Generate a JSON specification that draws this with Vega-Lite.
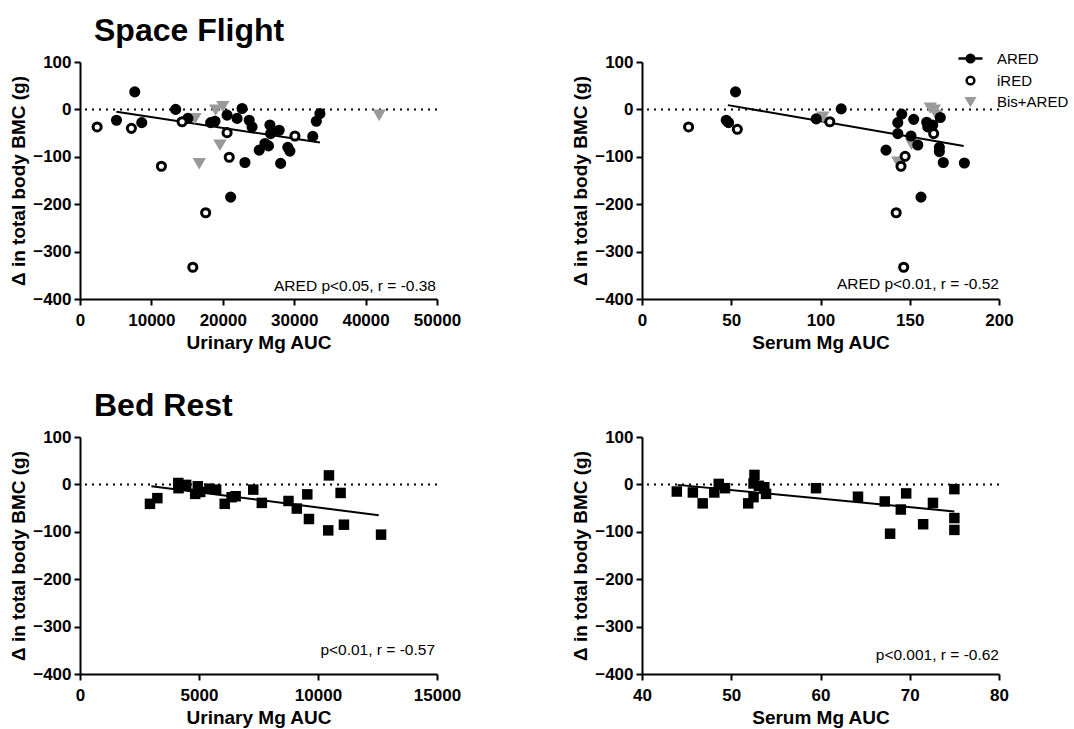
{
  "$schema": "https://vega.github.io/schema/vega-lite/v6.json",
  "background": "white",
  "padding": {"left": 9, "top": 15, "right": 2, "bottom": 2},
  "columns": 2,
  "bounds": "flush",
  "spacing": {"row": 138, "column": 205},
  "resolve": {"legend": {"shape": "independent", "fill": "independent", "stroke": "independent"}},
  "datasets": {
    "sfs": [
      {"x": 101.3, "y": -15, "group": "Bis+ARED"},
      {"x": 161.5, "y": 4, "group": "Bis+ARED"},
      {"x": 163.8, "y": 0, "group": "Bis+ARED"},
      {"x": 143.3, "y": -110, "group": "Bis+ARED"},
      {"x": 151, "y": -72, "group": "Bis+ARED"},
      {"x": 165, "y": -11, "group": "Bis+ARED"},
      {"x": 52.4, "y": 37, "group": "ARED"},
      {"x": 47.2, "y": -23, "group": "ARED"},
      {"x": 48.5, "y": -28, "group": "ARED"},
      {"x": 97.6, "y": -20, "group": "ARED"},
      {"x": 111.6, "y": 1, "group": "ARED"},
      {"x": 136.7, "y": -86, "group": "ARED"},
      {"x": 143.3, "y": -51, "group": "ARED"},
      {"x": 143.3, "y": -28, "group": "ARED"},
      {"x": 145.5, "y": -10, "group": "ARED"},
      {"x": 152.2, "y": -21, "group": "ARED"},
      {"x": 150.7, "y": -56, "group": "ARED"},
      {"x": 154.5, "y": -75, "group": "ARED"},
      {"x": 159.5, "y": -27, "group": "ARED"},
      {"x": 160.1, "y": -37, "group": "ARED"},
      {"x": 162.9, "y": -33, "group": "ARED"},
      {"x": 167.1, "y": -17, "group": "ARED"},
      {"x": 166.6, "y": -80, "group": "ARED"},
      {"x": 166.6, "y": -89, "group": "ARED"},
      {"x": 168.8, "y": -112, "group": "ARED"},
      {"x": 180.6, "y": -113, "group": "ARED"},
      {"x": 156.3, "y": -185, "group": "ARED"},
      {"x": 26.1, "y": -37, "group": "iRED"},
      {"x": 53.4, "y": -42, "group": "iRED"},
      {"x": 105.2, "y": -26, "group": "iRED"},
      {"x": 163.4, "y": -51, "group": "iRED"},
      {"x": 147.4, "y": -99, "group": "iRED"},
      {"x": 145.1, "y": -120, "group": "iRED"},
      {"x": 142.4, "y": -218, "group": "iRED"},
      {"x": 146.6, "y": -333, "group": "iRED"}
    ]
  },
  "config": {
    "font": "Liberation Sans",
    "view": {"stroke": null},
    "axis": {
      "grid": false,
      "domainColor": "black", "domainWidth": 2,
      "tickColor": "black", "tickWidth": 2, "tickSize": 6,
      "labelFont": "Liberation Sans", "labelFontSize": 17, "labelFontWeight": "bold", "labelColor": "black",
      "titleFont": "Liberation Sans", "titleFontSize": 19, "titleFontWeight": "bold", "titleColor": "black",
      "labelOverlap": false, "labelFlush": false
    },
    "axisX": {"labelPadding": 7, "titlePadding": 5},
    "axisY": {"labelPadding": 3, "titlePadding": 4},
    "title": {"font": "Liberation Sans", "fontSize": 32, "fontWeight": "bold", "color": "black", "anchor": "start", "frame": "group"}
  },
  "concat": [
    {
      "width": 357, "height": 237,
      "title": {"text": "Space Flight", "dx": 14, "offset": -20, "baseline": "alphabetic"},
      "layer": [
        {
          "data": {"values": [{}]},
          "mark": {"type": "rule", "strokeDash": [2, 5], "strokeWidth": 2, "color": "black"},
          "encoding": {"y": {"datum": 0, "type": "quantitative"}}
        },
        {
          "data": {"values": [{"x": 5100, "y": -5}, {"x": 33600, "y": -70}]},
          "mark": {"type": "line", "color": "black", "strokeWidth": 2},
          "encoding": {
            "x": {"field": "x", "type": "quantitative", "title": "Urinary Mg AUC"},
            "y": {"field": "y", "type": "quantitative", "title": "Δ in total body BMC (g)"}
          }
        },
        {
          "data": {"values": [
            {"x": 16100, "y": -18, "group": "Bis+ARED"},
            {"x": 16700, "y": -113, "group": "Bis+ARED"},
            {"x": 19000, "y": 0, "group": "Bis+ARED"},
            {"x": 20000, "y": 7, "group": "Bis+ARED"},
            {"x": 19600, "y": -74, "group": "Bis+ARED"},
            {"x": 41900, "y": -11, "group": "Bis+ARED"},
            {"x": 7670, "y": 37, "group": "ARED"},
            {"x": 5110, "y": -23, "group": "ARED"},
            {"x": 8650, "y": -28, "group": "ARED"},
            {"x": 13400, "y": 0, "group": "ARED"},
            {"x": 15100, "y": -19, "group": "ARED"},
            {"x": 18300, "y": -28, "group": "ARED"},
            {"x": 18900, "y": -25, "group": "ARED"},
            {"x": 20600, "y": -12, "group": "ARED"},
            {"x": 22000, "y": -19, "group": "ARED"},
            {"x": 22700, "y": 2, "group": "ARED"},
            {"x": 23700, "y": -23, "group": "ARED"},
            {"x": 24100, "y": -37, "group": "ARED"},
            {"x": 26600, "y": -33, "group": "ARED"},
            {"x": 26700, "y": -51, "group": "ARED"},
            {"x": 27900, "y": -44, "group": "ARED"},
            {"x": 25900, "y": -72, "group": "ARED"},
            {"x": 25100, "y": -86, "group": "ARED"},
            {"x": 26400, "y": -77, "group": "ARED"},
            {"x": 29100, "y": -80, "group": "ARED"},
            {"x": 29400, "y": -88, "group": "ARED"},
            {"x": 23100, "y": -112, "group": "ARED"},
            {"x": 28100, "y": -114, "group": "ARED"},
            {"x": 21100, "y": -185, "group": "ARED"},
            {"x": 32600, "y": -57, "group": "ARED"},
            {"x": 33100, "y": -25, "group": "ARED"},
            {"x": 33600, "y": -9, "group": "ARED"},
            {"x": 2400, "y": -37, "group": "iRED"},
            {"x": 7200, "y": -40, "group": "iRED"},
            {"x": 11400, "y": -120, "group": "iRED"},
            {"x": 14300, "y": -26, "group": "iRED"},
            {"x": 20600, "y": -49, "group": "iRED"},
            {"x": 20900, "y": -101, "group": "iRED"},
            {"x": 17600, "y": -218, "group": "iRED"},
            {"x": 15800, "y": -333, "group": "iRED"},
            {"x": 30100, "y": -56, "group": "iRED"}
          ]},
          "mark": {"type": "point", "size": 66, "strokeWidth": 3, "opacity": 1},
          "encoding": {
            "x": {"field": "x", "type": "quantitative", "title": "Urinary Mg AUC",
                  "scale": {"domain": [0, 50000], "nice": false},
                  "axis": {"values": [0, 10000, 20000, 30000, 40000, 50000], "format": "d"}},
            "y": {"field": "y", "type": "quantitative", "title": "Δ in total body BMC (g)",
                  "scale": {"domain": [-400, 100], "nice": false},
                  "axis": {"values": [-400, -300, -200, -100, 0, 100], "format": "d"}},
            "shape": {"field": "group", "type": "nominal", "scale": {"domain": ["ARED", "iRED", "Bis+ARED"], "range": ["circle", "circle", "triangle-down"]}, "legend": null},
            "fill": {"field": "group", "type": "nominal", "scale": {"domain": ["ARED", "iRED", "Bis+ARED"], "range": ["black", "white", "#9a9a9a"]}, "legend": null},
            "stroke": {"field": "group", "type": "nominal", "scale": {"domain": ["ARED", "iRED", "Bis+ARED"], "range": ["black", "black", "#9a9a9a"]}, "legend": null}
          }
        },
        {
          "data": {"values": [{"label": "ARED p<0.05, r = -0.38"}]},
          "mark": {"type": "text", "align": "right", "baseline": "bottom", "fontSize": 15.5, "font": "Liberation Sans", "color": "black", "dx": -1, "dy": -5},
          "encoding": {"x": {"datum": 50000}, "y": {"datum": -400}, "text": {"field": "label"}}
        }
      ]
    },
    {
      "width": 357, "height": 237,
      "resolve": {"scale": {"shape": "independent", "fill": "independent", "stroke": "independent"}},
      "layer": [
        {
          "data": {"values": [{}]},
          "mark": {"type": "rule", "strokeDash": [2, 5], "strokeWidth": 2, "color": "black"},
          "encoding": {"y": {"datum": 0, "type": "quantitative"}}
        },
        {
          "data": {"values": [{"x": 48.1, "y": 9}, {"x": 180.2, "y": -77}]},
          "mark": {"type": "line", "color": "black", "strokeWidth": 2},
          "encoding": {
            "x": {"field": "x", "type": "quantitative", "title": "Serum Mg AUC"},
            "y": {"field": "y", "type": "quantitative", "title": "Δ in total body BMC (g)"}
          }
        },
        {
          "data": {"name": "sfs"},
          "mark": {"type": "point", "size": 66, "strokeWidth": 3, "opacity": 0},
          "encoding": {
            "x": {"field": "x", "type": "quantitative", "title": "Serum Mg AUC"},
            "y": {"field": "y", "type": "quantitative", "title": "Δ in total body BMC (g)"},
            "shape": {"field": "group", "type": "nominal",
                      "scale": {"domain": ["ARED", "iRED", "Bis+ARED"], "range": ["M-3.1,0H3.1M1,0A1,1,0,1,1,-1,0A1,1,0,1,1,1,0Z", "circle", "triangle-down"]},
                      "legend": {"orient": "none", "legendX": 321, "legendY": -11, "title": null, "padding": 0,
                                 "labelFont": "Liberation Sans", "labelFontSize": 15, "labelColor": "black",
                                 "symbolSize": 60, "symbolStrokeWidth": 2.5, "symbolOpacity": 1, "rowPadding": 3, "labelOffset": 19}},
            "fill": {"field": "group", "type": "nominal", "scale": {"domain": ["ARED", "iRED", "Bis+ARED"], "range": ["black", "white", "#9a9a9a"]}},
            "stroke": {"field": "group", "type": "nominal", "scale": {"domain": ["ARED", "iRED", "Bis+ARED"], "range": ["black", "black", "#9a9a9a"]}}
          }
        },
        {
          "data": {"name": "sfs"},
          "mark": {"type": "point", "size": 66, "strokeWidth": 3, "opacity": 1},
          "encoding": {
            "x": {"field": "x", "type": "quantitative", "title": "Serum Mg AUC",
                  "scale": {"domain": [0, 200], "nice": false},
                  "axis": {"values": [0, 50, 100, 150, 200], "format": "d"}},
            "y": {"field": "y", "type": "quantitative", "title": "Δ in total body BMC (g)",
                  "scale": {"domain": [-400, 100], "nice": false},
                  "axis": {"values": [-400, -300, -200, -100, 0, 100], "format": "d"}},
            "shape": {"field": "group", "type": "nominal", "scale": {"domain": ["ARED", "iRED", "Bis+ARED"], "range": ["circle", "circle", "triangle-down"]}, "legend": null},
            "fill": {"field": "group", "type": "nominal", "scale": {"domain": ["ARED", "iRED", "Bis+ARED"], "range": ["black", "white", "#9a9a9a"]}, "legend": null},
            "stroke": {"field": "group", "type": "nominal", "scale": {"domain": ["ARED", "iRED", "Bis+ARED"], "range": ["black", "black", "#9a9a9a"]}, "legend": null}
          }
        },
        {
          "data": {"values": [{"label": "ARED p<0.01, r = -0.52"}]},
          "mark": {"type": "text", "align": "right", "baseline": "bottom", "fontSize": 15.5, "font": "Liberation Sans", "color": "black", "dx": 0, "dy": -7},
          "encoding": {"x": {"datum": 200}, "y": {"datum": -400}, "text": {"field": "label"}}
        }
      ]
    },
    {
      "width": 357, "height": 237,
      "title": {"text": "Bed Rest", "dx": 14, "offset": -20, "baseline": "alphabetic"},
      "layer": [
        {
          "data": {"values": [{}]},
          "mark": {"type": "rule", "strokeDash": [2, 5], "strokeWidth": 2, "color": "black"},
          "encoding": {"y": {"datum": 0, "type": "quantitative"}}
        },
        {
          "data": {"values": [{"x": 3000, "y": -4}, {"x": 12550, "y": -65}]},
          "mark": {"type": "line", "color": "black", "strokeWidth": 2},
          "encoding": {
            "x": {"field": "x", "type": "quantitative", "title": "Urinary Mg AUC"},
            "y": {"field": "y", "type": "quantitative", "title": "Δ in total body BMC (g)"}
          }
        },
        {
          "data": {"values": [
            {"x": 2940, "y": -41}, {"x": 3250, "y": -29}, {"x": 4130, "y": 3}, {"x": 4460, "y": -1},
            {"x": 4140, "y": -8}, {"x": 4840, "y": -20}, {"x": 4950, "y": -4}, {"x": 5050, "y": -16},
            {"x": 5440, "y": -9}, {"x": 5720, "y": -11}, {"x": 6080, "y": -41}, {"x": 6370, "y": -27},
            {"x": 6540, "y": -25}, {"x": 7280, "y": -11}, {"x": 7640, "y": -39}, {"x": 8760, "y": -35},
            {"x": 9110, "y": -51}, {"x": 9550, "y": -21}, {"x": 9620, "y": -73}, {"x": 10460, "y": 19},
            {"x": 10430, "y": -97}, {"x": 10950, "y": -18}, {"x": 11090, "y": -85}, {"x": 12650, "y": -106}
          ]},
          "mark": {"type": "square", "size": 110, "color": "black", "opacity": 1},
          "encoding": {
            "x": {"field": "x", "type": "quantitative", "title": "Urinary Mg AUC",
                  "scale": {"domain": [0, 15000], "nice": false},
                  "axis": {"values": [0, 5000, 10000, 15000], "format": "d"}},
            "y": {"field": "y", "type": "quantitative", "title": "Δ in total body BMC (g)",
                  "scale": {"domain": [-400, 100], "nice": false},
                  "axis": {"values": [-400, -300, -200, -100, 0, 100], "format": "d"}}
          }
        },
        {
          "data": {"values": [{"label": "p<0.01, r = -0.57"}]},
          "mark": {"type": "text", "align": "right", "baseline": "bottom", "fontSize": 15.5, "font": "Liberation Sans", "color": "black", "dx": -2, "dy": -16},
          "encoding": {"x": {"datum": 15000}, "y": {"datum": -400}, "text": {"field": "label"}}
        }
      ]
    },
    {
      "width": 357, "height": 237,
      "layer": [
        {
          "data": {"values": [{}]},
          "mark": {"type": "rule", "strokeDash": [2, 5], "strokeWidth": 2, "color": "black"},
          "encoding": {"y": {"datum": 0, "type": "quantitative"}}
        },
        {
          "data": {"values": [{"x": 44, "y": -1}, {"x": 75, "y": -57}]},
          "mark": {"type": "line", "color": "black", "strokeWidth": 2},
          "encoding": {
            "x": {"field": "x", "type": "quantitative", "title": "Serum Mg AUC"},
            "y": {"field": "y", "type": "quantitative", "title": "Δ in total body BMC (g)"}
          }
        },
        {
          "data": {"values": [
            {"x": 43.9, "y": -15}, {"x": 45.7, "y": -17}, {"x": 46.8, "y": -40}, {"x": 48.1, "y": -17},
            {"x": 48.6, "y": 1}, {"x": 49.3, "y": -8}, {"x": 51.9, "y": -40}, {"x": 52.5, "y": -27},
            {"x": 52.6, "y": 20}, {"x": 52.5, "y": 2}, {"x": 53.1, "y": -3}, {"x": 53.7, "y": -6},
            {"x": 53.9, "y": -20}, {"x": 59.5, "y": -8}, {"x": 64.2, "y": -26}, {"x": 67.2, "y": -36},
            {"x": 67.8, "y": -104}, {"x": 69.0, "y": -53}, {"x": 69.6, "y": -19}, {"x": 71.5, "y": -84},
            {"x": 72.6, "y": -39}, {"x": 75.0, "y": -10}, {"x": 75.0, "y": -71}, {"x": 75.0, "y": -96}
          ]},
          "mark": {"type": "square", "size": 110, "color": "black", "opacity": 1},
          "encoding": {
            "x": {"field": "x", "type": "quantitative", "title": "Serum Mg AUC",
                  "scale": {"domain": [40, 80], "nice": false, "zero": false},
                  "axis": {"values": [40, 50, 60, 70, 80], "format": "d"}},
            "y": {"field": "y", "type": "quantitative", "title": "Δ in total body BMC (g)",
                  "scale": {"domain": [-400, 100], "nice": false},
                  "axis": {"values": [-400, -300, -200, -100, 0, 100], "format": "d"}}
          }
        },
        {
          "data": {"values": [{"label": "p<0.001, r = -0.62"}]},
          "mark": {"type": "text", "align": "right", "baseline": "bottom", "fontSize": 15.5, "font": "Liberation Sans", "color": "black", "dx": 0, "dy": -11},
          "encoding": {"x": {"datum": 80}, "y": {"datum": -400}, "text": {"field": "label"}}
        }
      ]
    }
  ]
}
